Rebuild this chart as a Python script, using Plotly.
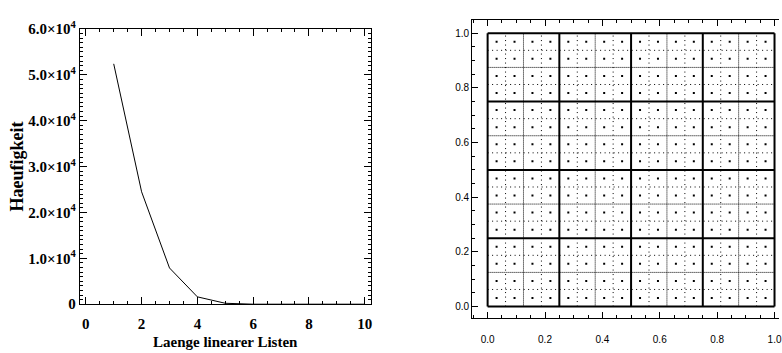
import plotly.graph_objects as go
import itertools

W, H = 782, 353

# ---- Left panel data ----
list_lengths = [1, 2, 3, 4, 5, 6, 7, 8, 9, 10]
counts = [52400, 24500, 7900, 1600, 200, 0, 0, 0, 0, 0]
left_xticks = [0, 2, 4, 6, 8, 10]
left_yticks = [0, 10000, 20000, 30000, 40000, 50000, 60000]
left_yticktext = ["0", "1.0×10<sup>4</sup>", "2.0×10<sup>4</sup>", "3.0×10<sup>4</sup>",
                  "4.0×10<sup>4</sup>", "5.0×10<sup>4</sup>", "6.0×10<sup>4</sup>"]

# ---- Right panel grid levels ----
grid_thick = [0.0, 0.25, 0.5, 0.75, 1.0]
grid_level1 = [0.125, 0.375, 0.625, 0.875]
grid_level2 = [0.0625, 0.1875, 0.3125, 0.4375, 0.5625, 0.6875, 0.8125, 0.9375]
grid_dots = [0.03125, 0.09375, 0.15625, 0.21875, 0.28125, 0.34375, 0.40625, 0.46875,
             0.53125, 0.59375, 0.65625, 0.71875, 0.78125, 0.84375, 0.90625, 0.96875]
right_ticks = [0.0, 0.2, 0.4, 0.6, 0.8, 1.0]
right_ticktext = ["0.0", "0.2", "0.4", "0.6", "0.8", "1.0"]

def px_x(p):
    return p / W

def px_y(p):
    return 1 - p / H

serif = dict(family="Liberation Serif", size=15, color="black", weight="bold")
sans = dict(family="Liberation Sans", size=10, color="black")

fig = go.Figure()
fig.add_trace(go.Scatter(x=list_lengths, y=counts, mode="lines",
                         line=dict(color="black", width=1), xaxis="x", yaxis="y",
                         showlegend=False, hoverinfo="skip"))

dx, dy = zip(*itertools.product(grid_dots, grid_dots))
fig.add_trace(go.Scatter(x=list(dx), y=list(dy), mode="markers",
                         marker=dict(color="black", size=2, symbol="square", line=dict(width=0)),
                         xaxis="x2", yaxis="y2", showlegend=False, hoverinfo="skip"))

shapes = []
def add_lines(vals, width, dash):
    for v in vals:
        shapes.append(dict(type="line", xref="x2", yref="y2", x0=v, x1=v, y0=0, y1=1,
                           line=dict(color="black", width=width, dash=dash)))
        shapes.append(dict(type="line", xref="x2", yref="y2", x0=0, x1=1, y0=v, y1=v,
                           line=dict(color="black", width=width, dash=dash)))

add_lines(grid_level2, 1, "1px,3.5px")
add_lines(grid_level1, 1, "1px,1px")
add_lines(grid_thick, 2, "solid")

common = dict(showline=True, linecolor="black", linewidth=1, showgrid=False, zeroline=False,
              ticks="inside", tickcolor="black", tickwidth=1, ticklabeloverflow="allow")

# right panel: 288 px per unit, zero at pixel centre 489.5 (x) / 312.5 (y)
rx_lo, rx_hi = -15.5 / 288, 292.5 / 288
ry_lo, ry_hi = -12.5 / 288, 1 + 13.5 / 288

fig.update_layout(
    width=W, height=H, margin=dict(l=0, r=0, t=0, b=0),
    paper_bgcolor="white", plot_bgcolor="white",
    shapes=shapes,
    xaxis=dict(**common, domain=[px_x(80), px_x(372)], range=[-0.22, 10.21],
               tickmode="array", tickvals=left_xticks, ticklen=7, mirror="ticks",
               ticklabelstandoff=6,
               minor=dict(dtick=0.5, ticklen=3, ticks="inside", tickcolor="black", showgrid=False),
               tickfont=serif, anchor="y"),
    yaxis=dict(**common, domain=[px_y(310), px_y(20)], range=[0, 60000],
               tickmode="array", tickvals=left_yticks, ticktext=left_yticktext, ticklen=7,
               mirror="ticks",
               minor=dict(dtick=1000, ticklen=3, ticks="inside", tickcolor="black", showgrid=False),
               tickfont=serif, anchor="x"),
    xaxis2=dict(**common, domain=[px_x(474), 1.0], range=[rx_lo, rx_hi],
                tickmode="array", tickvals=right_ticks, ticktext=right_ticktext, ticklen=6,
                mirror="ticks", ticklabelstandoff=12,
                minor=dict(dtick=0.05, ticklen=3, ticks="inside", tickcolor="black", showgrid=False),
                tickfont=sans, anchor="y2"),
    yaxis2=dict(**common, domain=[px_y(325), px_y(11)], range=[ry_lo, ry_hi],
                tickmode="array", tickvals=right_ticks, ticktext=right_ticktext, ticklen=6,
                mirror=False,
                minor=dict(dtick=0.05, ticklen=3, ticks="inside", tickcolor="black", showgrid=False),
                tickfont=sans, anchor="x2"),
    annotations=[
        dict(text="Haeufigkeit", textangle=-90, xref="paper", yref="paper",
             x=px_x(17), y=px_y(165), xanchor="center", yanchor="middle", showarrow=False,
             font=dict(family="Liberation Serif", size=18, color="black", weight="bold")),
        dict(text="Laenge linearer Listen", xref="paper", yref="paper",
             x=px_x(226), y=px_y(339), xanchor="center", yanchor="top", showarrow=False,
             font=serif),
    ],
)

fig.write_html("out.html")
